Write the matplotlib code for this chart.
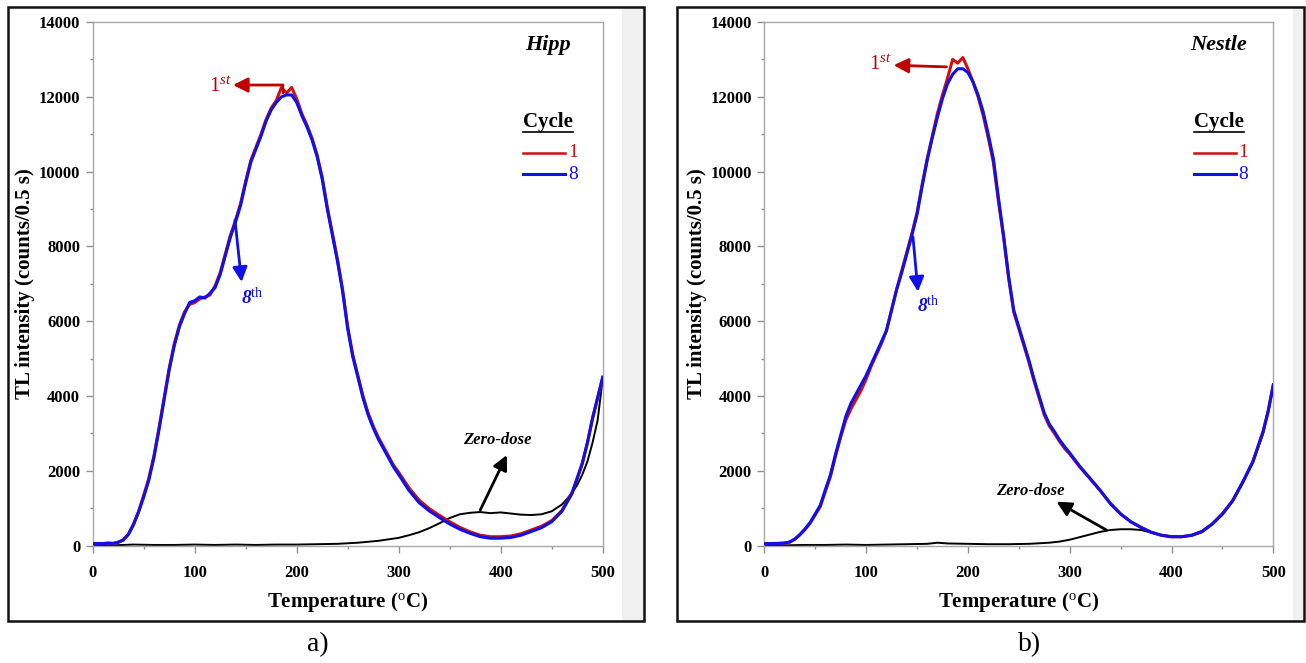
import matplotlib
matplotlib.use("Agg")
import matplotlib.pyplot as plt
from matplotlib.patches import Rectangle
from matplotlib.ticker import MultipleLocator

plt.rcParams['font.family'] = ['Liberation Serif', 'DejaVu Serif']
plt.rcParams['mathtext.fontset'] = 'custom'
plt.rcParams['mathtext.rm'] = 'Liberation Serif'
plt.rcParams['mathtext.it'] = 'Liberation Serif:italic'
plt.rcParams['mathtext.bf'] = 'Liberation Serif:italic:bold'

# ---------------- data: Hipp ----------------
hipp_T = [0, 5, 10, 15, 20, 25, 30, 35, 40, 45, 50, 55, 60, 65, 70, 75, 80, 85, 90, 95,
          100, 105, 110, 115, 120, 125, 130, 135, 140, 145, 150, 155, 160, 165, 170, 175,
          180, 185, 190, 195, 200, 205, 210, 215, 220, 225, 230, 235, 240, 245, 250, 255,
          260, 265, 270, 275, 280, 285, 290, 295, 300, 310, 320, 330, 340, 350, 360, 370,
          380, 390, 400, 410, 420, 430, 440, 450, 460, 470, 480, 485, 490, 495, 500]
hipp_cycle8 = [50, 60, 55, 70, 60, 90, 150, 300, 560, 900, 1300, 1750, 2350, 3100, 3900, 4700,
               5350, 5850, 6200, 6500, 6550, 6650, 6620, 6750, 6900, 7250, 7750, 8250, 8650,
               9100, 9700, 10250, 10600, 10950, 11350, 11650, 11850, 12000, 12050, 12050,
               11850, 11500, 11200, 10850, 10400, 9800, 9000, 8300, 7600, 6800, 5800, 5050,
               4500, 3950, 3500, 3150, 2850, 2600, 2350, 2100, 1900, 1480, 1150, 930, 750,
               580, 440, 330, 240, 200, 200, 220, 280, 380, 480, 640, 920, 1400, 2200, 2750,
               3400, 3950, 4500]
hipp_cycle1 = [50, 55, 60, 65, 60, 95, 160, 310, 580, 920, 1350, 1800, 2400, 3150, 3950, 4750,
               5400, 5900, 6250, 6450, 6500, 6600, 6650, 6700, 6950, 7300, 7800, 8300, 8700,
               9150, 9750, 10300, 10650, 11000, 11400, 11700, 11900, 12250, 12100, 12250,
               11950, 11550, 11250, 10900, 10450, 9850, 9050, 8350, 7650, 6850, 5850, 5100,
               4550, 4000, 3550, 3200, 2900, 2650, 2400, 2150, 1960, 1550, 1220, 990, 810,
               640, 490, 370, 280, 240, 240, 260, 320, 420, 520, 670, 940, 1420, 2200, 2750,
               3400, 3950, 4500]
hipp_zero_T = [0, 20, 40, 60, 80, 100, 120, 140, 160, 180, 200, 220, 240, 260, 280, 300, 310,
               320, 330, 340, 350, 360, 370, 380, 390, 400, 410, 420, 430, 440, 450, 460, 465,
               470, 475, 480, 485, 490, 495, 500]
hipp_zero = [20, 10, 30, 20, 20, 30, 20, 30, 20, 30, 30, 40, 50, 80, 130, 210, 280, 360, 470,
             600, 740, 840, 880, 900, 870, 890, 860, 830, 820, 840, 920, 1100, 1250, 1420,
             1620, 1900, 2250, 2750, 3350, 4450]

# ---------------- data: Nestle ----------------
nestle_T = hipp_T
nestle_cycle8 = [50, 55, 60, 60, 70, 100, 180, 300, 450, 620, 850, 1080, 1500, 1900, 2450,
                 2950, 3450, 3800, 4050, 4300, 4550, 4850, 5150, 5450, 5750, 6300, 6850, 7300,
                 7800, 8300, 8850, 9600, 10300, 10900, 11450, 11950, 12350, 12600, 12750,
                 12750, 12650, 12400, 12050, 11600, 11000, 10350, 9300, 8300, 7200, 6300,
                 5850, 5400, 4950, 4450, 4000, 3550, 3250, 3050, 2830, 2650, 2480, 2120, 1800,
                 1480, 1130, 850, 640, 490, 360, 280, 240, 240, 280, 380, 580, 850, 1200, 1700,
                 2250, 2650, 3050, 3600, 4300]
nestle_cycle1 = [50, 60, 55, 65, 70, 95, 170, 290, 430, 600, 820, 1050, 1450, 1850, 2400,
                 2900, 3350, 3650, 3900, 4150, 4450, 4800, 5100, 5400, 5750, 6300, 6850, 7350,
                 7850, 8350, 8900, 9650, 10350, 10950, 11550, 12050, 12500, 13000, 12900,
                 13050, 12750, 12400, 12000, 11500, 10900, 10250, 9200, 8250, 7150, 6250,
                 5800, 5350, 4900, 4400, 3950, 3500, 3200, 3000, 2790, 2600, 2450, 2100, 1790,
                 1470, 1120, 850, 640, 490, 360, 280, 240, 240, 280, 380, 580, 850, 1200, 1700,
                 2250, 2650, 3050, 3600, 4300]
nestle_zero_T = [0, 20, 40, 60, 80, 100, 120, 140, 160, 170, 180, 200, 220, 240, 260, 280, 290,
                 300, 310, 320, 330, 340, 350, 360, 370, 380, 390, 400, 410, 420, 430, 440,
                 450, 460, 470, 480, 490, 500]
nestle_zero = [20, 10, 20, 20, 30, 20, 30, 40, 50, 80, 60, 50, 40, 40, 50, 80, 110, 160, 230,
               300, 370, 420, 440, 440, 420, 350, 280, 250, 240, 270, 360, 570, 830, 1180,
               1680, 2230, 3000, 4250]

x_ticks = [0, 100, 200, 300, 400, 500]
y_ticks = [0, 2000, 4000, 6000, 8000, 10000, 12000, 14000]

W, H = 1306, 663
fig = plt.figure(figsize=(W / 100, H / 100), dpi=100)


def fx(px):
    return px / W


def fy(py):
    return 1 - py / H


# panel frames and grey strips
for (x0, x1, gx) in [(8, 644, 622), (677, 1304, 1293)]:
    fig.patches.append(Rectangle((fx(gx), fy(621)), fx(x1 - gx), (621 - 8) / H,
                                 transform=fig.transFigure, facecolor='#f0f0f0',
                                 edgecolor='none', zorder=0))
    fig.patches.append(Rectangle((fx(x0), fy(621)), fx(x1 - x0), (621 - 7) / H,
                                 transform=fig.transFigure, facecolor='none',
                                 edgecolor='#111111', lw=1.8, zorder=5))

axL = fig.add_axes([fx(92.7), fy(545.7), fx(510), 523.7 / H])
axR = fig.add_axes([fx(764.3), fy(545.7), fx(509), 523.7 / H])

panels = [
    (axL, hipp_T, hipp_cycle1, hipp_cycle8, hipp_zero_T, hipp_zero, 'Hipp'),
    (axR, nestle_T, nestle_cycle1, nestle_cycle8, nestle_zero_T, nestle_zero, 'Nestle'),
]

for ax, T, c1, c8, zT, z, name in panels:
    ax.plot(zT, z, color='black', lw=1.4, zorder=2)
    ax.plot(T, c1, color='#d01010', lw=2.2, zorder=3)
    ax.plot(T, c8, color='#1010e8', lw=2.2, zorder=4)
    ax.set_xlim(0, 500)
    ax.set_ylim(0, 14000)
    ax.set_xticks(x_ticks)
    ax.set_yticks(y_ticks)
    ax.xaxis.set_minor_locator(MultipleLocator(50))
    ax.yaxis.set_minor_locator(MultipleLocator(1000))
    ax.tick_params(which='major', direction='out', length=5, width=1, color='#909090')
    ax.tick_params(which='minor', direction='out', length=2.5, width=1, color='#909090')
    ax.tick_params(axis='x', which='major', pad=9)
    ax.tick_params(axis='y', which='major', pad=4)
    for lab in ax.get_xticklabels() + ax.get_yticklabels():
        lab.set_fontweight('bold')
        lab.set_fontsize(12)
    for s in ax.spines.values():
        s.set_color('#a8a8a8')
        s.set_linewidth(1.0)
    ax.set_xlabel(r'Temperature ($^{\mathrm{o}}$C)', fontsize=15, fontweight='bold',
                  va='center')
    ax.set_ylabel('TL intensity (counts/0.5 s)', fontsize=15, fontweight='bold',
                  va='center')
    ax.xaxis.set_label_coords(0.5, -0.1075)
    ax.yaxis.set_label_coords(-0.133, 0.5)

    ax.text(0.892, 0.956, name, transform=ax.transAxes, ha='center', va='center',
            fontsize=16, fontweight='bold', fontstyle='italic')
    ax.text(0.893, 0.809, 'Cycle', transform=ax.transAxes, ha='center', va='center',
            fontsize=15, fontweight='bold')
    ax.plot([0.844, 0.942], [0.790, 0.790], transform=ax.transAxes, color='black',
            lw=1.2, clip_on=False)
    ax.plot([0.844, 0.926], [0.750, 0.750], transform=ax.transAxes, color='#d01010',
            lw=1.8, clip_on=False)
    ax.plot([0.844, 0.926], [0.710, 0.710], transform=ax.transAxes, color='#1010e8',
            lw=2.2, clip_on=False)
    ax.text(0.932, 0.750, '1', transform=ax.transAxes, ha='left', va='center',
            fontsize=14, color='#d01010')
    ax.text(0.932, 0.708, '8', transform=ax.transAxes, ha='left', va='center',
            fontsize=14, color='#1010e8')

arrow_kw = dict(arrowstyle='-|>', mutation_scale=22, lw=2.0, shrinkA=0, shrinkB=0)

# Hipp annotations
axL.plot([186.6, 186.6], [12315, 12100], color='#c00000', lw=1.5, zorder=6)
axL.annotate('', xy=(137.5, 12315), xytext=(186.6, 12315),
             arrowprops=dict(color='#c00000', **arrow_kw), zorder=6)
axL.text(136, 12250, r'$\mathit{1}^{\mathit{st}}$', ha='right', va='center',
         fontsize=15, color='#c00000')
axL.annotate('', xy=(146, 7049), xytext=(139.5, 8706),
             arrowprops=dict(color='#1010e8', **arrow_kw), zorder=6)
axL.text(156, 6648, r'$\mathbf{8}^{\mathrm{th}}$', ha='center', va='center',
         fontsize=14, color='#1010e8')
axL.annotate('', xy=(406, 2424), xytext=(380, 955),
             arrowprops=dict(color='black', **arrow_kw), zorder=6)
axL.text(397, 2825, 'Zero-dose', ha='center', va='center', fontsize=12,
         fontweight='bold', fontstyle='italic')

# Nestle annotations
axR.annotate('', xy=(127, 12845), xytext=(179, 12800),
             arrowprops=dict(color='#c00000', **arrow_kw), zorder=6)
axR.text(125, 12850, r'$\mathit{1}^{\mathit{st}}$', ha='right', va='center',
         fontsize=15, color='#c00000')
axR.annotate('', xy=(151, 6790), xytext=(146, 8260),
             arrowprops=dict(color='#1010e8', **arrow_kw), zorder=6)
axR.text(161, 6430, r'$\mathbf{8}^{\mathrm{th}}$', ha='center', va='center',
         fontsize=14, color='#1010e8')
axR.annotate('', xy=(287, 1176), xytext=(336, 420),
             arrowprops=dict(color='black', **arrow_kw), zorder=6)
axR.text(261, 1462, 'Zero-dose', ha='center', va='center', fontsize=12,
         fontweight='bold', fontstyle='italic')

fig.text(fx(318), fy(645), 'a)', ha='center', va='center', fontsize=20)
fig.text(fx(1030), fy(645), 'b)', ha='center', va='center', fontsize=20)

fig.savefig('out.png', dpi=100)
